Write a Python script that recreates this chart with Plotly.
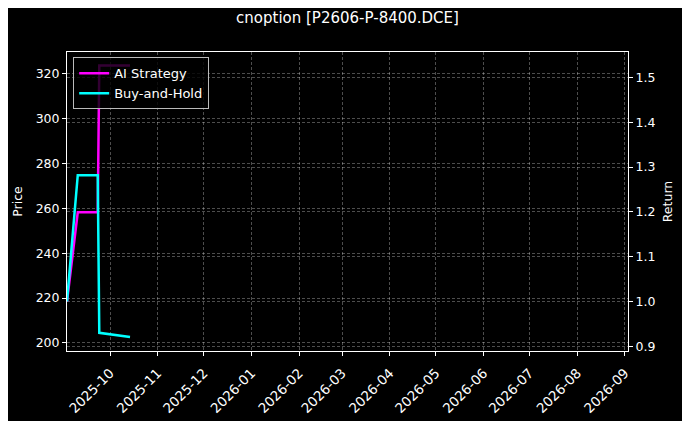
import plotly.graph_objects as go

# trade dates and cumulative returns (right axis)
dates = ["2025-09-03", "2025-09-10", "2025-09-23", "2025-09-24", "2025-10-14"]
ai_strategy = [1.0, 1.199, 1.199, 1.527, 1.527]
buy_and_hold = [1.0, 1.282, 1.282, 0.930, 0.921]

x_range = ["2025-09-03", "2026-09-03"]
price_range = [196.4, 329.6]
return_range = [0.8895, 1.557]

font = "DejaVu Sans"
grid = "rgba(255,255,255,0.3)"

fig = go.Figure()
# empty trace so the left price axis is drawn
fig.add_trace(go.Scatter(x=[], y=[], yaxis="y", showlegend=False))
fig.add_trace(go.Scatter(x=dates, y=ai_strategy, name="AI Strategy", yaxis="y2",
                         mode="lines", line=dict(color="#ff00ff", width=2.5)))
fig.add_trace(go.Scatter(x=dates, y=buy_and_hold, name="Buy-and-Hold", yaxis="y2",
                         mode="lines", line=dict(color="#00ffff", width=2.5)))

axis_style = dict(showline=True, linecolor="white", linewidth=1, ticks="outside",
                  ticklen=4, tickcolor="white", showgrid=True, gridcolor=grid,
                  griddash="3px,2px", gridwidth=0.5, zeroline=False, automargin=False)
tick_font = dict(family=font, size=12.5, color="white")
title_font = dict(family=font, size=12.5, color="white")

# page body adds 8px offset, margins compensate for it
fig.update_layout(
    width=690, height=421,
    paper_bgcolor="black", plot_bgcolor="black",
    margin=dict(l=59, r=70, t=44, b=78),
    font=dict(family=font, size=12.5, color="white"),
    title=dict(text="cnoption [P2606-P-8400.DCE]", x=0.5, xref="paper", xanchor="center",
               y=0.977, yref="container", yanchor="middle",
               font=dict(family=font, size=15, color="white")),
    xaxis=dict(type="date", range=x_range, dtick="M1", tick0="2025-10-01",
               tickformat="%Y-%m", tickangle=-45, mirror=True, ticklabelstandoff=4,
               tickfont=dict(family=font, size=13.5, color="white"), **axis_style),
    yaxis=dict(range=price_range, dtick=20, mirror=True, tickfont=tick_font,
               title=dict(text="Price", standoff=10, font=title_font), **axis_style),
    yaxis2=dict(range=return_range, dtick=0.1, tickformat=".1f", overlaying="y",
                side="right", tickfont=tick_font,
                title=dict(text="Return", standoff=8, font=title_font), **axis_style),
    legend=dict(x=0.011, y=0.982, xanchor="left", yanchor="top",
                bgcolor="rgba(0,0,0,0.8)", bordercolor="#bbbbbb", borderwidth=1,
                font=dict(family=font, size=13, color="white"), itemwidth=30),
    showlegend=True,
)

fig.write_html("out.html")
